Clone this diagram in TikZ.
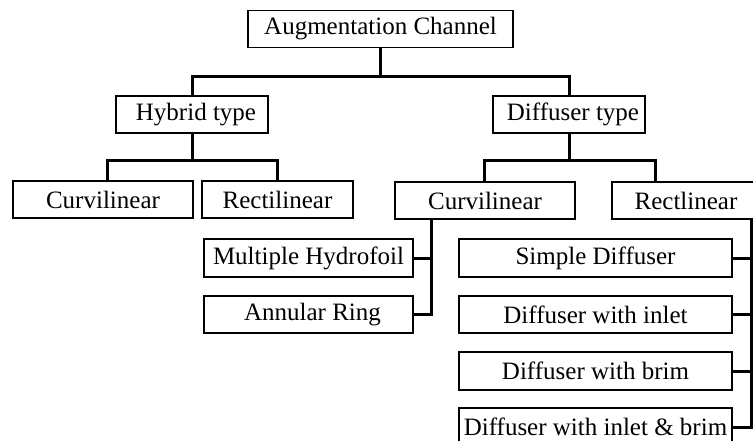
\documentclass[tikz,border=0pt]{standalone}
\usepackage{fontspec}
\setmainfont{Liberation Serif}
\begin{document}
\begin{tikzpicture}[x=1pt,y=-1pt,
  box/.style={draw, line width=1.7pt, inner sep=0pt, minimum height=37pt,
    font=\fontsize{25}{30}\selectfont},
  conn/.style={line width=3pt}]
\useasboundingbox (0,0) rectangle (753,441);
\clip (0,0) rectangle (753,441);
\node[box, minimum width=265pt] (aug) at (380.5,29) {Augmentation Channel};
\node[box, minimum width=152pt] (hyb) at (192,114.5) {\hspace{8pt}Hybrid type};
\node[box, minimum width=152pt] (dif) at (569,114.5) {\hspace{8pt}Diffuser type};
\node[box, minimum width=180pt] (hcur) at (103,199.5) {Curvilinear};
\node[box, minimum width=151pt] (hrec) at (277.5,199.5) {Rectilinear};
\node[box, minimum width=180pt] (dcur) at (485,200.5) {Curvilinear};
\node[box, minimum width=148pt] (drec) at (686,200.5) {Rectlinear};
\node[box, minimum width=209pt, minimum height=38pt] (mh) at (308.5,258) {Multiple Hydrofoil};
\node[box, minimum width=209pt] (ar) at (308.5,314.5) {\hspace{8pt}Annular Ring};
\node[box, minimum width=273pt, minimum height=38pt] (sd) at (595.5,258) {Simple Diffuser};
\node[box, minimum width=273pt] (dwi) at (595.5,314.5) {Diffuser with inlet};
\node[box, minimum width=273pt, minimum height=38pt] (dwb) at (595.5,371) {Diffuser with brim};
\node[box, minimum width=273pt, minimum height=38pt] (dwib) at (595.5,427) {Diffuser with inlet \& brim};
% connectors
\coordinate (j1) at (380.5,77);
\draw[conn] (aug.south) -- (j1);
\draw[conn] (hyb.north) |- (j1) -| (dif.north);
\coordinate (j2) at (192,161);
\draw[conn] (hyb.south) -- (j2);
\draw[conn] ([xshift=4pt]hcur.north) |- (j2) -| (hrec.north);
\coordinate (j3) at (569,161);
\draw[conn] (dif.south) -- (j3);
\draw[conn] ([xshift=-1pt]dcur.north) |- (j3) -| ([xshift=-31pt]drec.north);
\coordinate (c1) at (431,219);
\draw[conn] (c1) |- (ar.east);
\draw[conn] (mh.east) -| (c1);
\coordinate (c2) at (751,219);
\draw[conn] (c2) |- (dwib.east);
\draw[conn] (sd.east) -| (c2);
\draw[conn] (dwi.east) -- (dwi.east -| c2);
\draw[conn] (dwb.east) -- (dwb.east -| c2);
\end{tikzpicture}
\end{document}
